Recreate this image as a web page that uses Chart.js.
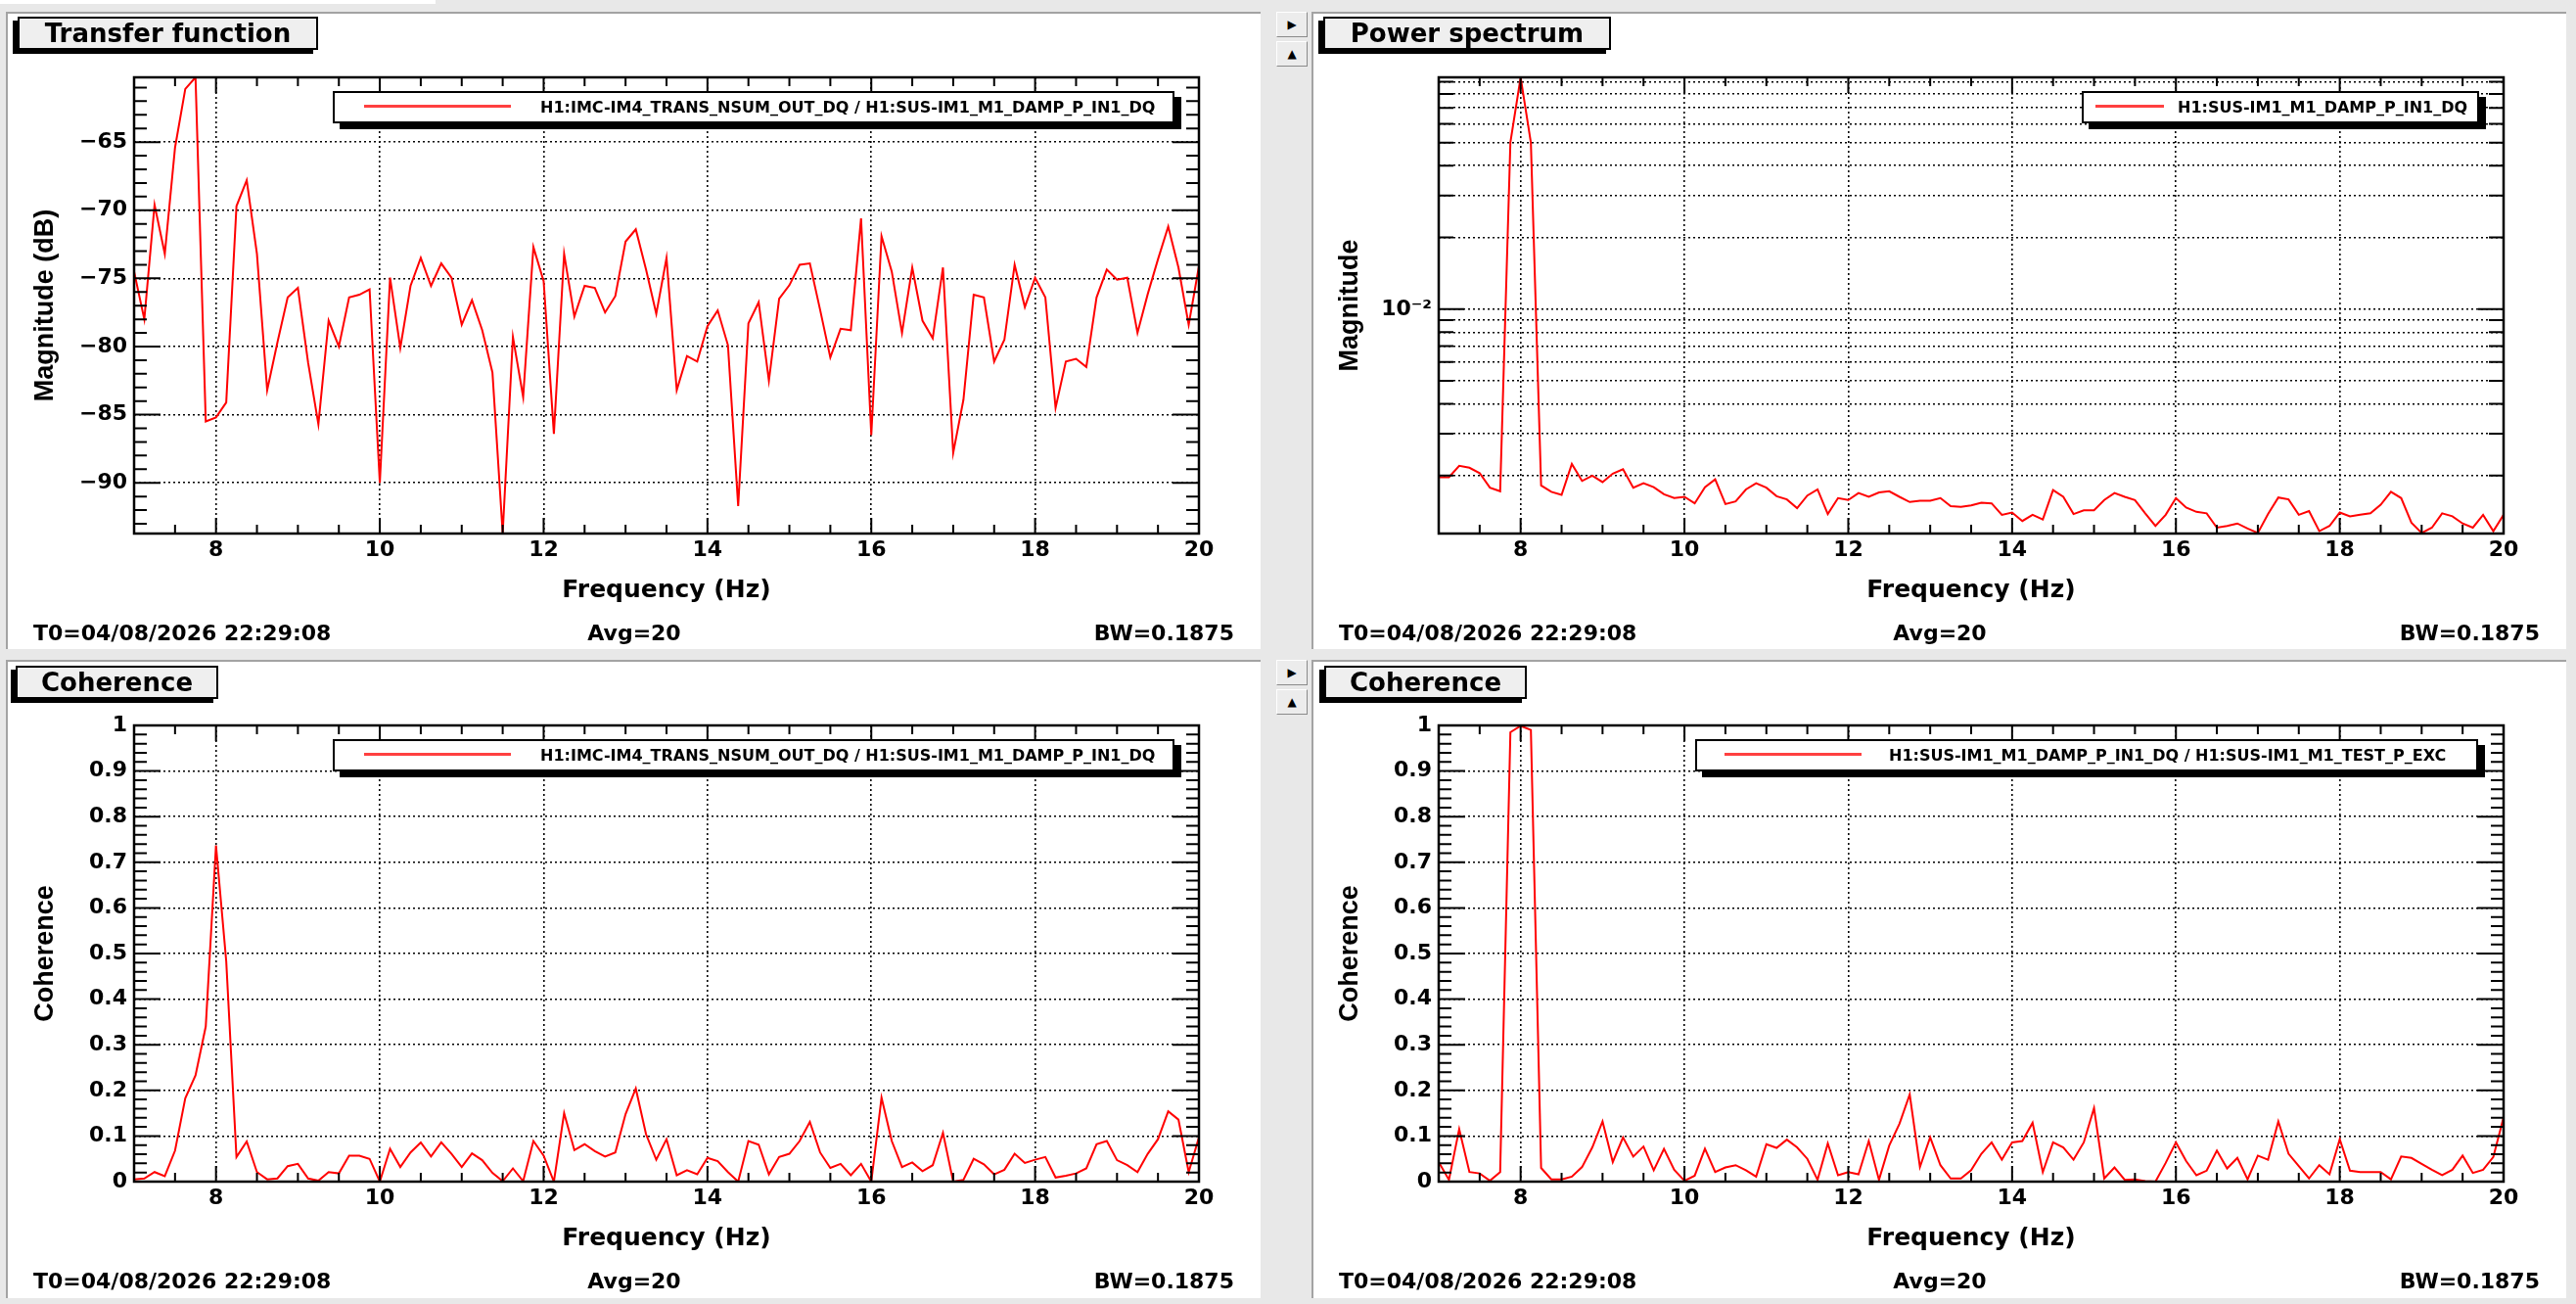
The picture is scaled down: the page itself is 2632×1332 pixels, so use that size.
<!DOCTYPE html>
<html>
<head>
<meta charset="utf-8">
<title>DTT diagnostics</title>
<script src="https://cdn.jsdelivr.net/npm/chart.js@4.4.1/dist/chart.umd.min.js"></script>
<style>
  html, body { margin:0; padding:0; }
  body { width:2632px; height:1332px; background:#e8e8e8; position:relative; overflow:hidden;
         font-family:"DejaVu Sans", sans-serif; font-weight:bold; color:#000; }
  .panel { position:absolute; background:#fff; border-top:2px solid #a3a3a3; border-left:2px solid #a3a3a3; box-sizing:border-box; }
  .title { position:absolute; box-sizing:border-box; height:34px; background:#efefef; border:2px solid #000;
           box-shadow:-5px 4px 0 #000; font-size:26px; line-height:30px; text-align:center; white-space:nowrap; }
  .legend { position:absolute; box-sizing:border-box; height:33px; background:#fff; border:2px solid #000; box-shadow:7px 6px 0 #000; }
  .legend .sample { position:absolute; top:12px; height:3px; background:#ff4040; }
  .legend .ltext { position:absolute; top:0; line-height:29px; font-size:16px; white-space:nowrap; }
  .foot { position:absolute; font-size:22px; line-height:22px; white-space:nowrap; }
  .btn { position:absolute; width:32px; height:26px; box-sizing:border-box; background:#ececec; border:1px solid;
         border-color:#ffffff #8a8a8a #8a8a8a #ffffff; font-size:12px; line-height:24px; text-align:center; }
  canvas { position:absolute; }
</style>
</head>
<body>
<div style="position:absolute;left:0;top:0;width:445px;height:4px;background:#fff;"></div>

<div class="panel" style="left:6px;top:12px;width:1282px;height:651px;"></div>
<div class="panel" style="left:1340px;top:12px;width:1282px;height:651px;"></div>
<div class="panel" style="left:6px;top:674px;width:1282px;height:652px;"></div>
<div class="panel" style="left:1340px;top:674px;width:1282px;height:652px;"></div>

<div class="btn" style="left:1304px;top:12px;">&#9654;</div>
<div class="btn" style="left:1304px;top:42px;">&#9650;</div>
<div class="btn" style="left:1304px;top:674px;">&#9654;</div>
<div class="btn" style="left:1304px;top:704px;">&#9650;</div>

<canvas id="c1" width="1280" height="649" style="left:8px;top:13px;"></canvas>
<canvas id="c2" width="1280" height="649" style="left:1341px;top:13px;"></canvas>
<canvas id="c3" width="1280" height="649" style="left:8px;top:675px;"></canvas>
<canvas id="c4" width="1280" height="649" style="left:1341px;top:675px;"></canvas>

<div class="title" style="left:18px;top:17px;width:307px;">Transfer function</div>
<div class="title" style="left:1352px;top:17px;width:294px;">Power spectrum</div>
<div class="title" style="left:16px;top:680px;width:207px;">Coherence</div>
<div class="title" style="left:1353px;top:680px;width:207px;">Coherence</div>

<div class="legend" style="left:340px;top:93px;width:860px;">
  <div class="sample" style="left:30px;width:150px;"></div>
  <div class="ltext" style="left:210px;">H1:IMC-IM4_TRANS_NSUM_OUT_DQ / H1:SUS-IM1_M1_DAMP_P_IN1_DQ</div>
</div>
<div class="legend" style="left:2127px;top:93px;width:406px;">
  <div class="sample" style="left:12px;width:70px;"></div>
  <div class="ltext" style="left:96px;">H1:SUS-IM1_M1_DAMP_P_IN1_DQ</div>
</div>
<div class="legend" style="left:340px;top:755px;width:860px;">
  <div class="sample" style="left:30px;width:150px;"></div>
  <div class="ltext" style="left:210px;">H1:IMC-IM4_TRANS_NSUM_OUT_DQ / H1:SUS-IM1_M1_DAMP_P_IN1_DQ</div>
</div>
<div class="legend" style="left:1732px;top:755px;width:800px;">
  <div class="sample" style="left:28px;width:140px;"></div>
  <div class="ltext" style="left:196px;">H1:SUS-IM1_M1_DAMP_P_IN1_DQ / H1:SUS-IM1_M1_TEST_P_EXC</div>
</div>

<div class="foot" style="left:34px;top:636px;">T0=04/08/2026 22:29:08</div>
<div class="foot" style="left:448px;top:636px;width:400px;text-align:center;">Avg=20</div>
<div class="foot" style="left:961px;top:636px;width:300px;text-align:right;">BW=0.1875</div>
<div class="foot" style="left:1368px;top:636px;">T0=04/08/2026 22:29:08</div>
<div class="foot" style="left:1782px;top:636px;width:400px;text-align:center;">Avg=20</div>
<div class="foot" style="left:2295px;top:636px;width:300px;text-align:right;">BW=0.1875</div>
<div class="foot" style="left:34px;top:1298px;">T0=04/08/2026 22:29:08</div>
<div class="foot" style="left:448px;top:1298px;width:400px;text-align:center;">Avg=20</div>
<div class="foot" style="left:961px;top:1298px;width:300px;text-align:right;">BW=0.1875</div>
<div class="foot" style="left:1368px;top:1298px;">T0=04/08/2026 22:29:08</div>
<div class="foot" style="left:1782px;top:1298px;width:400px;text-align:center;">Avg=20</div>
<div class="foot" style="left:2295px;top:1298px;width:300px;text-align:right;">BW=0.1875</div>

<script>
// ---------------- data ----------------
const freqHz = [
  7, 7.125, 7.25, 7.375, 7.5, 7.625, 7.75, 7.875,
  8, 8.125, 8.25, 8.375, 8.5, 8.625, 8.75, 8.875,
  9, 9.125, 9.25, 9.375, 9.5, 9.625, 9.75, 9.875,
  10, 10.125, 10.25, 10.375, 10.5, 10.625, 10.75, 10.875,
  11, 11.125, 11.25, 11.375, 11.5, 11.625, 11.75, 11.875,
  12, 12.125, 12.25, 12.375, 12.5, 12.625, 12.75, 12.875,
  13, 13.125, 13.25, 13.375, 13.5, 13.625, 13.75, 13.875,
  14, 14.125, 14.25, 14.375, 14.5, 14.625, 14.75, 14.875,
  15, 15.125, 15.25, 15.375, 15.5, 15.625, 15.75, 15.875,
  16, 16.125, 16.25, 16.375, 16.5, 16.625, 16.75, 16.875,
  17, 17.125, 17.25, 17.375, 17.5, 17.625, 17.75, 17.875,
  18, 18.125, 18.25, 18.375, 18.5, 18.625, 18.75, 18.875,
  19, 19.125, 19.25, 19.375, 19.5, 19.625, 19.75, 19.875,
  20
];

// Transfer function magnitude (dB)
const tfMagDb = [
  -74.5, -78.0, -69.6, -73.2, -65.4, -61.1, -60.25, -85.5,
  -85.2, -84.1, -69.7, -67.8, -73.2, -83.2, -79.7, -76.4,
  -75.7, -81.2, -85.7, -78.1, -80.0, -76.4, -76.2, -75.8,
  -90.0, -74.95, -80.1, -75.55, -73.5, -75.55, -73.9, -74.95,
  -78.4, -76.6, -78.8, -81.9, -93.7, -79.3, -83.7, -72.7,
  -75.2, -86.4, -73.2, -77.8, -75.55, -75.7, -77.5, -76.3,
  -72.3, -71.4, -74.35, -77.6, -73.5, -83.2, -80.7, -81.1,
  -78.5, -77.35, -79.9, -91.7, -78.3, -76.75, -82.5, -76.5,
  -75.5, -74.0, -73.9, -77.3, -80.8, -78.7, -78.8, -70.6,
  -86.5, -71.9, -74.5, -79.0, -74.2, -78.1, -79.4, -74.2,
  -87.8, -83.9, -76.2, -76.4, -81.1, -79.5, -74.0, -77.1,
  -74.95, -76.4, -84.5, -81.1, -80.9, -81.5, -76.4, -74.35,
  -75.1, -74.95, -79.0, -76.15, -73.6, -71.2, -74.2, -78.4,
  -74.1
];

// Power spectrum magnitude
const psdMag = [
  1.97e-3, 1.97e-3, 2.20e-3, 2.16e-3, 2.05e-3, 1.78e-3, 1.72e-3, 5.02e-2,
  9.4e-2, 5.0e-2, 1.82e-3, 1.71e-3, 1.66e-3, 2.24e-3, 1.90e-3, 2.00e-3,
  1.88e-3, 2.04e-3, 2.13e-3, 1.78e-3, 1.86e-3, 1.79e-3, 1.67e-3, 1.61e-3,
  1.63e-3, 1.53e-3, 1.79e-3, 1.93e-3, 1.52e-3, 1.56e-3, 1.75e-3, 1.86e-3,
  1.78e-3, 1.64e-3, 1.59e-3, 1.46e-3, 1.65e-3, 1.75e-3, 1.38e-3, 1.61e-3,
  1.58e-3, 1.69e-3, 1.63e-3, 1.70e-3, 1.72e-3, 1.63e-3, 1.55e-3, 1.57e-3,
  1.57e-3, 1.61e-3, 1.49e-3, 1.48e-3, 1.50e-3, 1.54e-3, 1.53e-3, 1.37e-3,
  1.40e-3, 1.29e-3, 1.37e-3, 1.31e-3, 1.74e-3, 1.63e-3, 1.38e-3, 1.43e-3,
  1.43e-3, 1.58e-3, 1.69e-3, 1.63e-3, 1.58e-3, 1.39e-3, 1.23e-3, 1.37e-3,
  1.61e-3, 1.47e-3, 1.41e-3, 1.39e-3, 1.21e-3, 1.23e-3, 1.26e-3, 1.20e-3,
  1.15e-3, 1.38e-3, 1.62e-3, 1.59e-3, 1.37e-3, 1.42e-3, 1.17e-3, 1.23e-3,
  1.40e-3, 1.35e-3, 1.37e-3, 1.39e-3, 1.51e-3, 1.71e-3, 1.61e-3, 1.27e-3,
  1.15e-3, 1.21e-3, 1.39e-3, 1.35e-3, 1.26e-3, 1.21e-3, 1.37e-3, 1.17e-3,
  1.37e-3
];

// Coherence IMC-IM4 TRANS / SUS-IM1 DAMP
const cohTf = [
  0.005, 0.007, 0.021, 0.012, 0.068, 0.183, 0.233, 0.34,
  0.737, 0.483, 0.054, 0.088, 0.021, 0.005, 0.007, 0.034,
  0.039, 0.007, 0.002, 0.021, 0.018, 0.057, 0.057, 0.050,
  0.0, 0.072, 0.032, 0.064, 0.086, 0.055, 0.086, 0.061,
  0.032, 0.062, 0.047, 0.019, 0.001, 0.029, 0.001, 0.089,
  0.057, 0.0, 0.150, 0.069, 0.082, 0.067, 0.055, 0.064,
  0.148, 0.204, 0.104, 0.048, 0.093, 0.014, 0.025, 0.016,
  0.052, 0.045, 0.021, 0.0, 0.089, 0.081, 0.016, 0.054,
  0.061, 0.089, 0.131, 0.064, 0.030, 0.039, 0.014, 0.039,
  0.0, 0.184, 0.089, 0.032, 0.042, 0.023, 0.036, 0.107,
  0.0, 0.004, 0.050, 0.038, 0.016, 0.026, 0.061, 0.041,
  0.048, 0.054, 0.009, 0.013, 0.018, 0.029, 0.082, 0.089,
  0.047, 0.036, 0.021, 0.061, 0.093, 0.154, 0.136, 0.021,
  0.097
];

// Coherence SUS-IM1 DAMP / SUS-IM1 TEST EXC
const cohExc = [
  0.043, 0.004, 0.115, 0.021, 0.018, 0.002, 0.021, 0.985,
  0.999, 0.99, 0.03, 0.005, 0.005, 0.011, 0.032, 0.075,
  0.132, 0.043, 0.097, 0.055, 0.077, 0.025, 0.072, 0.026,
  0.002, 0.013, 0.072, 0.021, 0.031, 0.036, 0.025, 0.011,
  0.082, 0.074, 0.092, 0.075, 0.050, 0.004, 0.084, 0.014,
  0.021, 0.016, 0.089, 0.004, 0.079, 0.127, 0.191, 0.032,
  0.097, 0.036, 0.007, 0.007, 0.025, 0.061, 0.086, 0.048,
  0.086, 0.089, 0.129, 0.021, 0.086, 0.075, 0.048, 0.086,
  0.161, 0.007, 0.031, 0.004, 0.005, 0.001, 0.0, 0.041,
  0.086, 0.045, 0.014, 0.024, 0.068, 0.029, 0.052, 0.005,
  0.057, 0.048, 0.132, 0.061, 0.034, 0.007, 0.036, 0.016,
  0.093, 0.024, 0.021, 0.021, 0.021, 0.005, 0.055, 0.052,
  0.039, 0.026, 0.014, 0.026, 0.057, 0.019, 0.026, 0.054,
  0.141
];

// ticks and labels
const xTickValues = [8, 10, 12, 14, 16, 18, 20];
const xTickLabels = ['8', '10', '12', '14', '16', '18', '20'];
const tfYTickValues = [-90, -85, -80, -75, -70, -65];
const tfYTickLabels = ['\u221290', '\u221285', '\u221280', '\u221275', '\u221270', '\u221265'];
const psYTickValues = [0.002, 0.003, 0.004, 0.005, 0.006, 0.007, 0.008, 0.009, 0.01,
                       0.02, 0.03, 0.04, 0.05, 0.06, 0.07, 0.08, 0.09];
const psYTickLabels = ['', '', '', '', '', '', '', '', '10\u207B\u00B2', '', '', '', '', '', '', '', ''];
const cohYTickValues = [0, 0.1, 0.2, 0.3, 0.4, 0.5, 0.6, 0.7, 0.8, 0.9, 1];
const cohYTickLabels = ['0', '0.1', '0.2', '0.3', '0.4', '0.5', '0.6', '0.7', '0.8', '0.9', '1'];

// ---------------- drawing ----------------
const TICK_FONT = { family: 'DejaVu Sans', weight: 'bold', size: 22 };

const rootAxes = {
  id: 'rootAxes',
  afterDraw(chart, args, o) {
    const { ctx, chartArea: a } = chart;
    const xs = chart.scales.x, ys = chart.scales.y;
    ctx.save();
    ctx.strokeStyle = '#000';
    ctx.lineWidth = 2;
    ctx.beginPath();
    const xt = xs.ticks.map(t => t.value);
    const xStep = (xt[1] - xt[0]) / o.xDiv;
    let sx = xt[0];
    while (sx - xStep >= xs.min - 1e-9) sx -= xStep;
    for (let v = sx; v <= xs.max + 1e-9; v += xStep) {
      const major = xt.some(t => Math.abs(t - v) < 1e-6);
      const len = major ? 16 : 9;
      const p = xs.getPixelForValue(v);
      ctx.moveTo(p, a.bottom); ctx.lineTo(p, a.bottom - len);
      ctx.moveTo(p, a.top); ctx.lineTo(p, a.top + len);
    }
    const yTick = (v, len) => {
      const p = ys.getPixelForValue(v);
      ctx.moveTo(a.left, p); ctx.lineTo(a.left + len, p);
      ctx.moveTo(a.right, p); ctx.lineTo(a.right - len, p);
    };
    if (o.yLog) {
      const d0 = Math.floor(Math.log10(ys.min)), d1 = Math.ceil(Math.log10(ys.max));
      for (let d = d0; d <= d1; d++) {
        for (let k = 1; k <= 9; k++) {
          const v = k * Math.pow(10, d);
          if (v >= ys.min && v <= ys.max) yTick(v, k === 1 ? 26 : 15);
        }
      }
    } else {
      const yt = ys.ticks.map(t => t.value);
      const yStep = (yt[1] - yt[0]) / o.yDiv;
      let s = yt[0];
      while (s - yStep >= ys.min - 1e-9) s -= yStep;
      for (let v = s; v <= ys.max + 1e-9; v += yStep) {
        const major = yt.some(t => Math.abs(t - v) < 1e-6);
        yTick(v, major ? 27 : 13);
      }
    }
    ctx.stroke();
    ctx.lineWidth = 2.5;
    ctx.strokeRect(a.left, a.top, a.right - a.left, a.bottom - a.top);
    ctx.restore();
  }
};

function makeChart(id, values, y) {
  return new Chart(document.getElementById(id), {
    type: 'line',
    data: {
      datasets: [{
        data: freqHz.map((f, i) => ({ x: f, y: values[i] })),
        borderColor: '#ff0000',
        borderWidth: 2,
        pointRadius: 0,
        tension: 0,
        fill: false
      }]
    },
    options: {
      responsive: false,
      maintainAspectRatio: false,
      animation: false,
      events: [],
      layout: { padding: { left: 0, right: 63, top: 66, bottom: 0 } },
      plugins: {
        legend: { display: false },
        tooltip: { enabled: false },
        rootAxes: { xDiv: 4, yDiv: 5, yLog: y.type === 'logarithmic' }
      },
      scales: {
        x: {
          type: 'linear', min: 7, max: 20,
          afterBuildTicks: s => { s.ticks = xTickValues.map(v => ({ value: v })); },
          afterFit: s => { s.height = 117; },
          ticks: { autoSkip: false, maxRotation: 0, padding: 4, color: '#000', font: TICK_FONT,
                   callback: (v, i) => xTickLabels[i] },
          grid: { color: '#000', lineWidth: 1.6, drawTicks: false },
          border: { display: false, dash: [2, 3] },
          title: { display: true, text: 'Frequency (Hz)', color: '#000',
                   font: { family: 'DejaVu Sans', weight: 'bold', size: 25 },
                   padding: { top: 0, bottom: 44 } }
        },
        y: {
          type: y.type, min: y.min, max: y.max,
          afterBuildTicks: s => { s.ticks = y.tickValues.map(v => ({ value: v })); },
          afterFit: s => { s.width = 129; },
          ticks: { autoSkip: false, padding: 7, color: '#000', font: TICK_FONT,
                   callback: (v, i) => y.tickLabels[i] },
          grid: { color: '#000', lineWidth: 1.6, drawTicks: false },
          border: { display: false, dash: [2, 3] },
          title: { display: true, text: y.title, color: '#000',
                   font: { family: 'Liberation Sans', weight: 'bold', size: 27 },
                   padding: { top: 22, bottom: 0 } }
        }
      }
    },
    plugins: [rootAxes]
  });
}

makeChart('c1', tfMagDb, { type: 'linear', min: -93.72, max: -60.25,
  tickValues: tfYTickValues, tickLabels: tfYTickLabels, title: 'Magnitude (dB)' });
makeChart('c2', psdMag, { type: 'logarithmic', min: 1.143e-3, max: 0.094,
  tickValues: psYTickValues, tickLabels: psYTickLabels, title: 'Magnitude' });
makeChart('c3', cohTf, { type: 'linear', min: 0, max: 1,
  tickValues: cohYTickValues, tickLabels: cohYTickLabels, title: 'Coherence' });
makeChart('c4', cohExc, { type: 'linear', min: 0, max: 1,
  tickValues: cohYTickValues, tickLabels: cohYTickLabels, title: 'Coherence' });
</script>
</body>
</html>
